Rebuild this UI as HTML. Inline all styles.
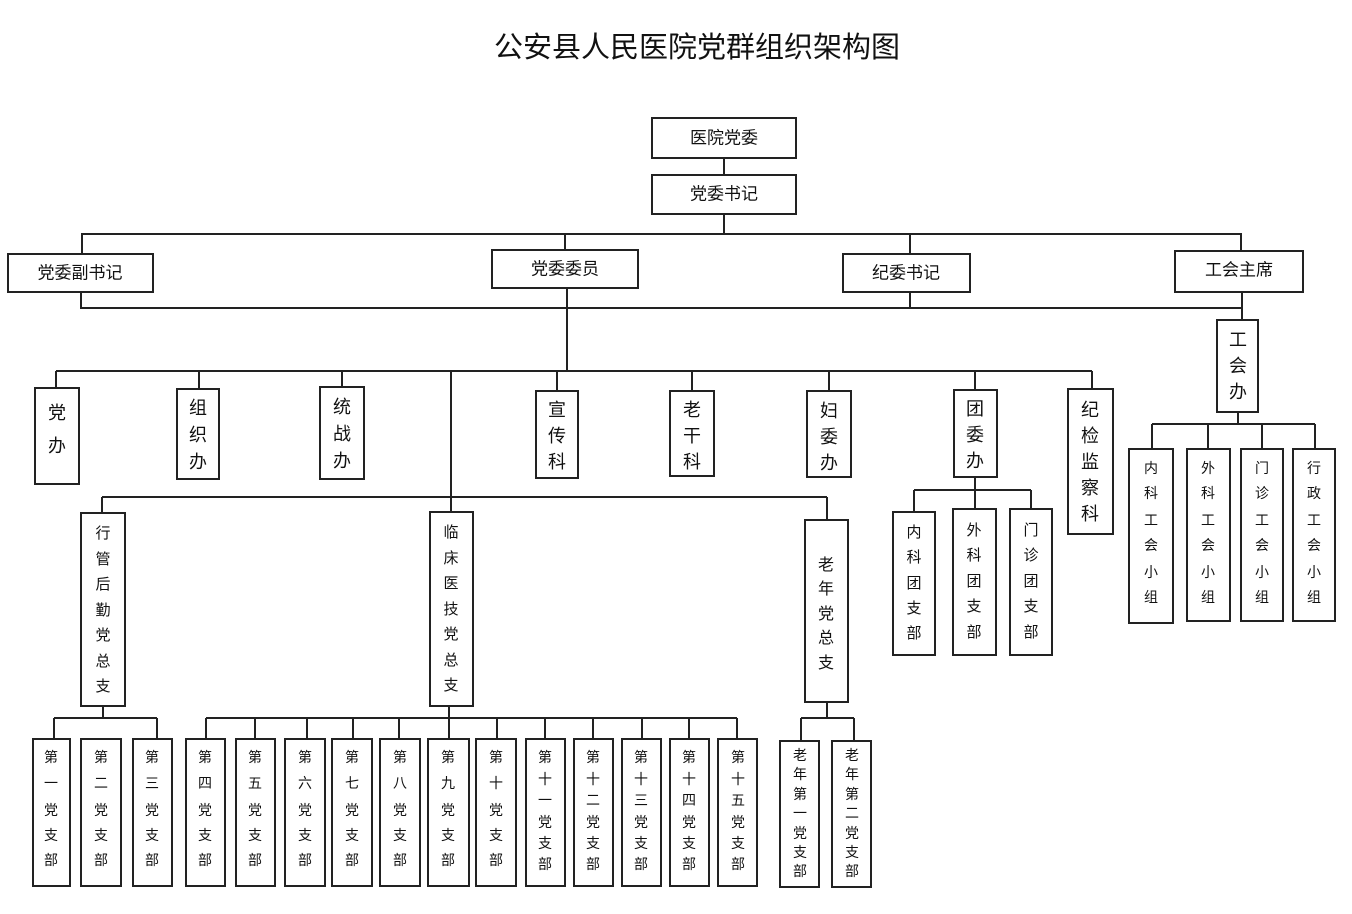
<!DOCTYPE html>
<html><head><meta charset="utf-8"><style>
html,body{margin:0;padding:0;background:#fff;width:1352px;height:914px;overflow:hidden}
svg{display:block}
text{font-family:"Liberation Sans","Noto Sans CJK SC",sans-serif;fill:#111;text-anchor:middle;dominant-baseline:central}
rect{fill:#fff;stroke:#222;stroke-width:2}
line{stroke:#222;stroke-width:2}
</style></head><body>
<svg width="1352" height="914" viewBox="0 0 1352 914" xmlns="http://www.w3.org/2000/svg">
<text x="697" y="48" font-size="29">公安县人民医院党群组织架构图</text>

<!-- connectors -->
<line x1="724" y1="158" x2="724" y2="175"/>
<line x1="724" y1="214" x2="724" y2="234"/>
<line x1="81" y1="234" x2="1242" y2="234"/>
<line x1="82" y1="234" x2="82" y2="254"/>
<line x1="565" y1="234" x2="565" y2="250"/>
<line x1="910" y1="234" x2="910" y2="254"/>
<line x1="1241" y1="234" x2="1241" y2="251"/>
<line x1="80" y1="308" x2="1242" y2="308"/>
<line x1="81" y1="292" x2="81" y2="308"/>
<line x1="910" y1="292" x2="910" y2="308"/>
<line x1="1242" y1="292" x2="1242" y2="320"/>
<line x1="567" y1="288" x2="567" y2="371"/>
<line x1="56" y1="371" x2="1092" y2="371"/>
<line x1="56" y1="371" x2="56" y2="388"/>
<line x1="199" y1="371" x2="199" y2="389"/>
<line x1="342" y1="371" x2="342" y2="387"/>
<line x1="557" y1="371" x2="557" y2="391"/>
<line x1="692" y1="371" x2="692" y2="391"/>
<line x1="829" y1="371" x2="829" y2="391"/>
<line x1="975" y1="371" x2="975" y2="390"/>
<line x1="1092" y1="371" x2="1092" y2="389"/>
<line x1="451" y1="371" x2="451" y2="512"/>
<line x1="102" y1="497" x2="827" y2="497"/>
<line x1="102" y1="497" x2="102" y2="513"/>
<line x1="827" y1="497" x2="827" y2="520"/>
<!-- tuan -->
<line x1="975" y1="477" x2="975" y2="509"/>
<line x1="914" y1="490" x2="1031" y2="490"/>
<line x1="914" y1="490" x2="914" y2="512"/>
<line x1="1031" y1="490" x2="1031" y2="509"/>
<!-- gonghui -->
<line x1="1238" y1="412" x2="1238" y2="424"/>
<line x1="1152" y1="424" x2="1315" y2="424"/>
<line x1="1152" y1="424" x2="1152" y2="449"/>
<line x1="1208" y1="424" x2="1208" y2="449"/>
<line x1="1262" y1="424" x2="1262" y2="449"/>
<line x1="1315" y1="424" x2="1315" y2="449"/>
<!-- xingguan -->
<line x1="103" y1="706" x2="103" y2="718"/>
<line x1="54" y1="718" x2="157" y2="718"/>
<line x1="54" y1="718" x2="54" y2="739"/>
<line x1="157" y1="718" x2="157" y2="739"/>
<!-- linchuang -->
<line x1="206" y1="718" x2="737" y2="718"/>
<line x1="206" y1="718" x2="206" y2="739"/>
<line x1="255" y1="718" x2="255" y2="739"/>
<line x1="307" y1="718" x2="307" y2="739"/>
<line x1="353" y1="718" x2="353" y2="739"/>
<line x1="399" y1="718" x2="399" y2="739"/>
<line x1="449" y1="706" x2="449" y2="739"/>
<line x1="497" y1="718" x2="497" y2="739"/>
<line x1="545" y1="718" x2="545" y2="739"/>
<line x1="593" y1="718" x2="593" y2="739"/>
<line x1="642" y1="718" x2="642" y2="739"/>
<line x1="689" y1="718" x2="689" y2="739"/>
<line x1="737" y1="718" x2="737" y2="739"/>
<!-- laonian -->
<line x1="827" y1="702" x2="827" y2="718"/>
<line x1="801" y1="718" x2="854" y2="718"/>
<line x1="801" y1="718" x2="801" y2="741"/>
<line x1="854" y1="718" x2="854" y2="741"/>

<!-- top boxes -->
<rect x="652" y="118" width="144" height="40"/><text x="724" y="138" font-size="17">医院党委</text>
<rect x="652" y="175" width="144" height="39"/><text x="724" y="194" font-size="17">党委书记</text>
<rect x="8" y="254" width="145" height="38"/><text x="80" y="273" font-size="17">党委副书记</text>
<rect x="492" y="250" width="146" height="38"/><text x="565" y="269" font-size="17">党委委员</text>
<rect x="843" y="254" width="127" height="38"/><text x="906" y="273" font-size="17">纪委书记</text>
<rect x="1175" y="251" width="128" height="41"/><text x="1239" y="270" font-size="17">工会主席</text>

<!-- level 3 -->
<rect x="35" y="388" width="44" height="96"/><text x="57" font-size="18"><tspan x="57" y="413">党</tspan><tspan x="57" y="446">办</tspan></text>
<rect x="177" y="389" width="42" height="90"/><text x="198" font-size="18"><tspan x="198" y="408">组</tspan><tspan x="198" y="435">织</tspan><tspan x="198" y="462">办</tspan></text>
<rect x="320" y="387" width="44" height="92"/><text x="342" font-size="18"><tspan x="342" y="407">统</tspan><tspan x="342" y="434">战</tspan><tspan x="342" y="461">办</tspan></text>
<rect x="536" y="391" width="42" height="87"/><text x="557" font-size="18"><tspan x="557" y="410">宣</tspan><tspan x="557" y="436">传</tspan><tspan x="557" y="462">科</tspan></text>
<rect x="670" y="391" width="44" height="85"/><text x="692" font-size="18"><tspan x="692" y="410">老</tspan><tspan x="692" y="436">干</tspan><tspan x="692" y="462">科</tspan></text>
<rect x="807" y="391" width="44" height="86"/><text x="829" font-size="18"><tspan x="829" y="411">妇</tspan><tspan x="829" y="437">委</tspan><tspan x="829" y="463">办</tspan></text>
<rect x="954" y="390" width="43" height="87"/><text x="975" font-size="18"><tspan x="975" y="409">团</tspan><tspan x="975" y="435">委</tspan><tspan x="975" y="461">办</tspan></text>
<rect x="1068" y="389" width="45" height="145"/><text x="1090" font-size="18"><tspan x="1090" y="410">纪</tspan><tspan x="1090" y="436">检</tspan><tspan x="1090" y="462">监</tspan><tspan x="1090" y="488">察</tspan><tspan x="1090" y="514">科</tspan></text>
<rect x="1217" y="320" width="41" height="92"/><text x="1238" font-size="18"><tspan x="1238" y="340">工</tspan><tspan x="1238" y="366">会</tspan><tspan x="1238" y="392">办</tspan></text>

<!-- tuan sub -->
<rect x="893" y="512" width="42" height="143"/><text x="914" font-size="15"><tspan x="914" y="532">内</tspan><tspan x="914" y="557">科</tspan><tspan x="914" y="583">团</tspan><tspan x="914" y="608">支</tspan><tspan x="914" y="633">部</tspan></text>
<rect x="953" y="509" width="43" height="146"/><text x="974" font-size="15"><tspan x="974" y="530">外</tspan><tspan x="974" y="555">科</tspan><tspan x="974" y="581">团</tspan><tspan x="974" y="606">支</tspan><tspan x="974" y="632">部</tspan></text>
<rect x="1010" y="509" width="42" height="146"/><text x="1031" font-size="15"><tspan x="1031" y="530">门</tspan><tspan x="1031" y="555">诊</tspan><tspan x="1031" y="581">团</tspan><tspan x="1031" y="606">支</tspan><tspan x="1031" y="632">部</tspan></text>

<!-- gonghui sub -->
<rect x="1129" y="449" width="44" height="174"/><text x="1151" font-size="14"><tspan x="1151" y="468">内</tspan><tspan x="1151" y="493">科</tspan><tspan x="1151" y="520">工</tspan><tspan x="1151" y="545">会</tspan><tspan x="1151" y="572">小</tspan><tspan x="1151" y="597">组</tspan></text>
<rect x="1187" y="449" width="43" height="172"/><text x="1208" font-size="14"><tspan x="1208" y="468">外</tspan><tspan x="1208" y="493">科</tspan><tspan x="1208" y="520">工</tspan><tspan x="1208" y="545">会</tspan><tspan x="1208" y="572">小</tspan><tspan x="1208" y="597">组</tspan></text>
<rect x="1241" y="449" width="42" height="172"/><text x="1262" font-size="14"><tspan x="1262" y="468">门</tspan><tspan x="1262" y="493">诊</tspan><tspan x="1262" y="520">工</tspan><tspan x="1262" y="545">会</tspan><tspan x="1262" y="572">小</tspan><tspan x="1262" y="597">组</tspan></text>
<rect x="1293" y="449" width="42" height="172"/><text x="1314" font-size="14"><tspan x="1314" y="468">行</tspan><tspan x="1314" y="493">政</tspan><tspan x="1314" y="520">工</tspan><tspan x="1314" y="545">会</tspan><tspan x="1314" y="572">小</tspan><tspan x="1314" y="597">组</tspan></text>

<!-- zongzhi -->
<rect x="81" y="513" width="44" height="193"/><text x="103" font-size="15"><tspan x="103" y="533">行</tspan><tspan x="103" y="559">管</tspan><tspan x="103" y="584">后</tspan><tspan x="103" y="610">勤</tspan><tspan x="103" y="635">党</tspan><tspan x="103" y="661">总</tspan><tspan x="103" y="686">支</tspan></text>
<rect x="430" y="512" width="43" height="194"/><text x="451" font-size="15"><tspan x="451" y="532">临</tspan><tspan x="451" y="558">床</tspan><tspan x="451" y="583">医</tspan><tspan x="451" y="609">技</tspan><tspan x="451" y="634">党</tspan><tspan x="451" y="660">总</tspan><tspan x="451" y="685">支</tspan></text>
<rect x="805" y="520" width="43" height="182"/><text x="826" font-size="16"><tspan x="826" y="565">老</tspan><tspan x="826" y="589">年</tspan><tspan x="826" y="614">党</tspan><tspan x="826" y="638">总</tspan><tspan x="826" y="663">支</tspan></text>

<!-- bottom -->
<g font-size="14">
<rect x="33" y="739" width="37" height="147"/><text x="51"><tspan x="51" y="757">第</tspan><tspan x="51" y="783">一</tspan><tspan x="51" y="810">党</tspan><tspan x="51" y="835">支</tspan><tspan x="51" y="860">部</tspan></text>
<rect x="81" y="739" width="40" height="147"/><text x="101"><tspan x="101" y="757">第</tspan><tspan x="101" y="783">二</tspan><tspan x="101" y="810">党</tspan><tspan x="101" y="835">支</tspan><tspan x="101" y="860">部</tspan></text>
<rect x="133" y="739" width="39" height="147"/><text x="152"><tspan x="152" y="757">第</tspan><tspan x="152" y="783">三</tspan><tspan x="152" y="810">党</tspan><tspan x="152" y="835">支</tspan><tspan x="152" y="860">部</tspan></text>
<rect x="186" y="739" width="39" height="147"/><text x="205"><tspan x="205" y="757">第</tspan><tspan x="205" y="783">四</tspan><tspan x="205" y="810">党</tspan><tspan x="205" y="835">支</tspan><tspan x="205" y="860">部</tspan></text>
<rect x="236" y="739" width="39" height="147"/><text x="255"><tspan x="255" y="757">第</tspan><tspan x="255" y="783">五</tspan><tspan x="255" y="810">党</tspan><tspan x="255" y="835">支</tspan><tspan x="255" y="860">部</tspan></text>
<rect x="285" y="739" width="40" height="147"/><text x="305"><tspan x="305" y="757">第</tspan><tspan x="305" y="783">六</tspan><tspan x="305" y="810">党</tspan><tspan x="305" y="835">支</tspan><tspan x="305" y="860">部</tspan></text>
<rect x="332" y="739" width="40" height="147"/><text x="352"><tspan x="352" y="757">第</tspan><tspan x="352" y="783">七</tspan><tspan x="352" y="810">党</tspan><tspan x="352" y="835">支</tspan><tspan x="352" y="860">部</tspan></text>
<rect x="380" y="739" width="40" height="147"/><text x="400"><tspan x="400" y="757">第</tspan><tspan x="400" y="783">八</tspan><tspan x="400" y="810">党</tspan><tspan x="400" y="835">支</tspan><tspan x="400" y="860">部</tspan></text>
<rect x="428" y="739" width="41" height="147"/><text x="448"><tspan x="448" y="757">第</tspan><tspan x="448" y="783">九</tspan><tspan x="448" y="810">党</tspan><tspan x="448" y="835">支</tspan><tspan x="448" y="860">部</tspan></text>
<rect x="476" y="739" width="40" height="147"/><text x="496"><tspan x="496" y="757">第</tspan><tspan x="496" y="783">十</tspan><tspan x="496" y="810">党</tspan><tspan x="496" y="835">支</tspan><tspan x="496" y="860">部</tspan></text>
<rect x="526" y="739" width="39" height="147"/><text x="545"><tspan x="545" y="757">第</tspan><tspan x="545" y="779">十</tspan><tspan x="545" y="800">一</tspan><tspan x="545" y="822">党</tspan><tspan x="545" y="843">支</tspan><tspan x="545" y="864">部</tspan></text>
<rect x="574" y="739" width="39" height="147"/><text x="593"><tspan x="593" y="757">第</tspan><tspan x="593" y="779">十</tspan><tspan x="593" y="800">二</tspan><tspan x="593" y="822">党</tspan><tspan x="593" y="843">支</tspan><tspan x="593" y="864">部</tspan></text>
<rect x="622" y="739" width="39" height="147"/><text x="641"><tspan x="641" y="757">第</tspan><tspan x="641" y="779">十</tspan><tspan x="641" y="800">三</tspan><tspan x="641" y="822">党</tspan><tspan x="641" y="843">支</tspan><tspan x="641" y="864">部</tspan></text>
<rect x="670" y="739" width="39" height="147"/><text x="689"><tspan x="689" y="757">第</tspan><tspan x="689" y="779">十</tspan><tspan x="689" y="800">四</tspan><tspan x="689" y="822">党</tspan><tspan x="689" y="843">支</tspan><tspan x="689" y="864">部</tspan></text>
<rect x="718" y="739" width="39" height="147"/><text x="738"><tspan x="738" y="757">第</tspan><tspan x="738" y="779">十</tspan><tspan x="738" y="800">五</tspan><tspan x="738" y="822">党</tspan><tspan x="738" y="843">支</tspan><tspan x="738" y="864">部</tspan></text>
<rect x="780" y="741" width="39" height="146"/><text x="800"><tspan x="800" y="755">老</tspan><tspan x="800" y="774">年</tspan><tspan x="800" y="794">第</tspan><tspan x="800" y="813">一</tspan><tspan x="800" y="833">党</tspan><tspan x="800" y="852">支</tspan><tspan x="800" y="871">部</tspan></text>
<rect x="832" y="741" width="39" height="146"/><text x="852"><tspan x="852" y="755">老</tspan><tspan x="852" y="774">年</tspan><tspan x="852" y="794">第</tspan><tspan x="852" y="813">二</tspan><tspan x="852" y="833">党</tspan><tspan x="852" y="852">支</tspan><tspan x="852" y="871">部</tspan></text>
</g>
</svg>
</body></html>
